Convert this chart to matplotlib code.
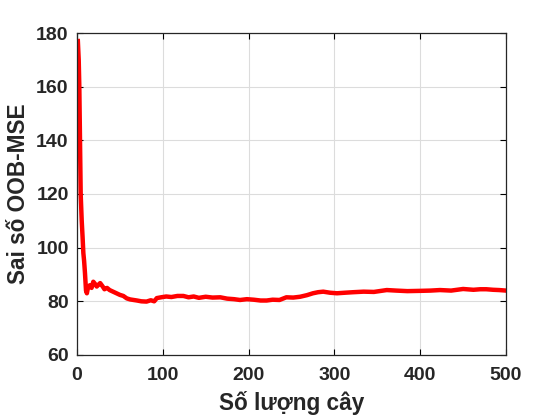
import matplotlib
matplotlib.use("Agg")
import matplotlib.pyplot as plt

x_trees = [1, 2, 2.7, 3.5, 4.3, 5.5, 6.5, 7.4, 8.3, 9.3, 10.5, 11.5, 13, 15, 17, 19, 21, 23, 25, 27,
           30, 32, 35, 38, 42, 46, 50, 54, 58, 62, 66, 70, 75, 81, 86, 90, 93, 98, 104,
           110, 117, 124, 130, 136, 142, 150, 158, 167, 175, 183, 190, 198, 206, 214, 221,
           228, 236, 244, 252, 260, 268, 275, 281, 287, 295, 303, 312, 322, 334, 346,
           361, 372, 385, 400, 412, 423, 436, 450, 462, 470, 477, 485, 492, 500]
oob_mse = [177.0, 170.0, 160.0, 140.0, 120.0, 110.0, 104.0, 98.0, 95.0, 90.5, 84.0, 83.0, 85.5, 86.0, 85.0, 87.3, 86.5, 85.5, 86.2, 86.8,
           85.5, 84.5, 85.0, 84.2, 83.6, 83.0, 82.4, 82.0, 81.1, 80.7, 80.5, 80.3, 80.0, 79.9, 80.4, 80.0, 81.2, 81.5, 81.8,
           81.6, 82.0, 82.0, 81.5, 81.8, 81.3, 81.7, 81.4, 81.5, 81.0, 80.8, 80.5, 80.8, 80.6, 80.3, 80.3,
           80.6, 80.5, 81.5, 81.4, 81.7, 82.3, 83.0, 83.4, 83.6, 83.2, 83.0, 83.2, 83.4, 83.6, 83.5,
           84.2, 84.0, 83.8, 83.9, 84.0, 84.2, 84.0, 84.6, 84.3, 84.5, 84.5, 84.3, 84.2, 84.0]

x_ticks = [0, 100, 200, 300, 400, 500]
y_ticks = [60, 80, 100, 120, 140, 160, 180]

plt.rcParams['font.family'] = ['Liberation Sans', 'DejaVu Sans']
plt.rcParams['font.weight'] = 'bold'

fig = plt.figure(figsize=(5.6, 4.2), dpi=100)
ax = fig.add_axes([0.1375, 0.1548, 0.7661, 0.7666])
ax.plot(x_trees, oob_mse, color='#ff0000', linewidth=3.2, solid_joinstyle='round')
ax.set_xlim(0, 500)
ax.set_ylim(60, 180)
ax.set_xticks(x_ticks)
ax.set_yticks(y_ticks)
ax.grid(True, color='#dcdcdc', linewidth=0.8)
ax.set_axisbelow(True)
ax.tick_params(direction='in', length=4, width=0.8, top=True, right=True, labelsize=14)
ax.tick_params(axis='x', pad=9)
ax.tick_params(axis='y', pad=6)
for lbl in ax.get_xticklabels() + ax.get_yticklabels():
    lbl.set_fontweight('bold')
    lbl.set_color('#262626')
for s in ax.spines.values():
    s.set_color('#262626')
    s.set_linewidth(0.9)
ax.set_xlabel('Số lượng cây', fontsize=16.3, fontweight='bold', color='#262626', labelpad=5)
ax.set_ylabel('Sai số OOB-MSE', fontsize=16.3, fontweight='bold', color='#262626', labelpad=4.5)
fig.savefig('out.png', dpi=100)
